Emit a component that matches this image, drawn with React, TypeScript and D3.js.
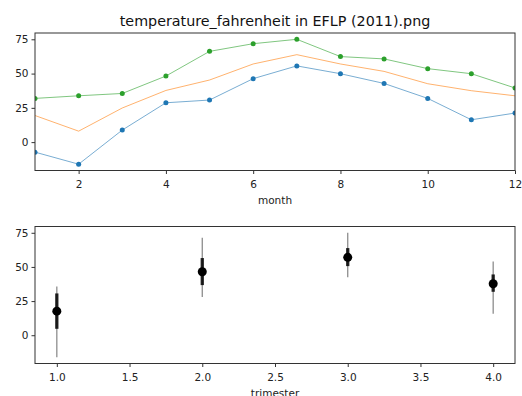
import React, { useEffect, useRef } from 'react';
import * as d3 from 'd3';

const months = [1, 2, 3, 4, 5, 6, 7, 8, 9, 10, 11, 12];
const minTemp = [-7.3, -16.1, 8.8, 28.7, 30.7, 46.3, 55.6, 49.9, 42.8, 31.9, 16.3, 21.2];
const meanTemp = [19.4, 8.0, 24.9, 37.7, 45.3, 57.0, 63.8, 57.0, 51.6, 42.6, 37.5, 33.8];
const maxTemp = [31.9, 33.8, 35.5, 48.2, 66.2, 71.8, 75.0, 62.4, 60.7, 53.6, 49.9, 39.5];

const trimesters = [1, 2, 3, 4];
const trimMean = [17.6, 46.5, 57.0, 37.7];
const trimStdLow = [4.7, 36.7, 50.6, 31.8];
const trimStdHigh = [30.6, 56.5, 63.8, 44.5];
const trimMin = [-16.1, 27.9, 42.5, 15.7];
const trimMax = [35.7, 71.4, 75.1, 54.0];

const yTicks = [0, 25, 50, 75];
const monthTicks = [2, 4, 6, 8, 10, 12];
const trimTicks = [1.0, 1.5, 2.0, 2.5, 3.0, 3.5, 4.0];

const W = 522;
const H = 396;
const font = 'DejaVu Sans, sans-serif';

const App: React.FC = () => {
  const ref = useRef<SVGSVGElement | null>(null);

  useEffect(() => {
    const svg = d3.select(ref.current);
    svg.selectAll('*').remove();
    svg.append('rect').attr('width', W).attr('height', H).attr('fill', 'white');

    const left = 35, right = 515;
    const yDomain: [number, number] = [-20.7, 79.6];

    // top panel
    const t = { top: 33, bottom: 170.5 };
    const x1 = d3.scaleLinear().domain([1, 12]).range([left, right]);
    const y1 = d3.scaleLinear().domain(yDomain).range([t.bottom, t.top]);

    svg.append('text')
      .attr('x', (left + right) / 2).attr('y', 26)
      .attr('text-anchor', 'middle')
      .style('font-family', font).style('font-size', '14.3px').attr('fill', '#111')
      .text('temperature_fahrenheit in EFLP (2011).png');

    const drawAxes = (x: d3.ScaleLinear<number, number>, y: d3.ScaleLinear<number, number>,
      top: number, bottom: number, xt: number[], fmt: (d: number) => string, label: string) => {
      const gx = svg.append('g').attr('transform', `translate(0,${bottom})`)
        .call(d3.axisBottom(x).tickValues(xt).tickFormat(d => fmt(d as number)).tickSize(3.5).tickSizeOuter(0));
      gx.select('.domain').remove();
      gx.selectAll('line').attr('stroke', '#333');
      gx.selectAll('text').style('font-family', font).style('font-size', '10.5px').attr('fill', '#222').attr('dy', '1.0em');
      const gy = svg.append('g').attr('transform', `translate(${left},0)`)
        .call(d3.axisLeft(y).tickValues(yTicks).tickSize(3.5).tickSizeOuter(0));
      gy.select('.domain').remove();
      gy.selectAll('line').attr('stroke', '#333');
      gy.selectAll('text').style('font-family', font).style('font-size', '10.5px').attr('fill', '#222');
      svg.append('rect').attr('x', left).attr('y', top).attr('width', right - left).attr('height', bottom - top)
        .attr('fill', 'none').attr('stroke', '#333').attr('stroke-width', 1);
      svg.append('text').attr('x', (left + right) / 2).attr('y', bottom + 33)
        .attr('text-anchor', 'middle').style('font-family', font).style('font-size', '10.5px').attr('fill', '#222')
        .text(label);
    };

    const clipTop = svg.append('clipPath').attr('id', 'clipTop');
    clipTop.append('rect').attr('x', left).attr('y', t.top).attr('width', right - left).attr('height', t.bottom - t.top);
    const p1 = svg.append('g').attr('clip-path', 'url(#clipTop)');

    const series = [
      { vals: minTemp, color: '#1f77b4', dots: true },
      { vals: meanTemp, color: '#ff7f0e', dots: false },
      { vals: maxTemp, color: '#2ca02c', dots: true },
    ];
    series.forEach(s => {
      const line = d3.line<number>().x((_, i) => x1(months[i])).y(d => y1(d));
      p1.append('path').attr('d', line(s.vals)).attr('fill', 'none')
        .attr('stroke', s.color).attr('stroke-opacity', 0.6).attr('stroke-width', 1);
      if (s.dots) {
        p1.selectAll(null).data(s.vals).enter().append('circle')
          .attr('cx', (_, i) => x1(months[i])).attr('cy', d => y1(d))
          .attr('r', 2.5).attr('fill', s.color);
      }
    });
    drawAxes(x1, y1, t.top, t.bottom, monthTicks, d => String(d), 'month');

    // bottom panel
    const b = { top: 226.5, bottom: 363.5 };
    const x2 = d3.scaleLinear().domain([0.85, 4.15]).range([left, right]);
    const y2 = d3.scaleLinear().domain(yDomain).range([b.bottom, b.top]);
    const p2 = svg.append('g');
    trimesters.forEach((q, i) => {
      p2.append('line').attr('x1', x2(q)).attr('x2', x2(q))
        .attr('y1', y2(trimMin[i])).attr('y2', y2(trimMax[i]))
        .attr('stroke', 'black').attr('stroke-opacity', 0.45).attr('stroke-width', 1.3);
      p2.append('line').attr('x1', x2(q)).attr('x2', x2(q))
        .attr('y1', y2(trimStdLow[i])).attr('y2', y2(trimStdHigh[i]))
        .attr('stroke', 'black').attr('stroke-opacity', 0.85).attr('stroke-width', 3.3);
      p2.append('circle').attr('cx', x2(q)).attr('cy', y2(trimMean[i])).attr('r', 4.5).attr('fill', 'black');
    });
    drawAxes(x2, y2, b.top, b.bottom, trimTicks, d => d.toFixed(1), 'trimester');
  }, []);

  return <svg ref={ref} width={W} height={H} style={{ position: 'absolute', left: 0, top: 0 }} />;
};

export default App;
